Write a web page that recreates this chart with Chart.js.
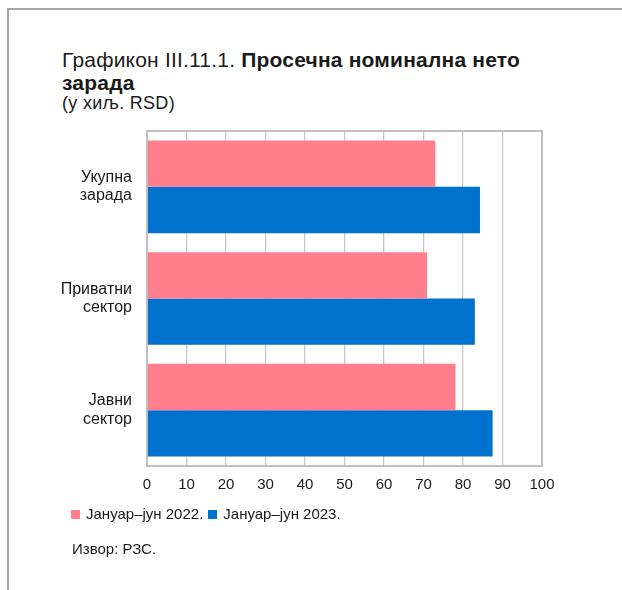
<!DOCTYPE html>
<html>
<head>
<meta charset="utf-8">
<script src="https://cdn.jsdelivr.net/npm/chart.js@4"></script>
<style>
  body { margin: 0; background: #fff; font-family: "Liberation Sans", Arial, sans-serif; color: #1a1a1a; }
  #wrap { position: relative; width: 622px; height: 590px; overflow: hidden; }
  #frame { position: absolute; left: 7px; top: 8px; width: 640px; height: 600px; border-left: 2px solid #a6a6a6; border-top: 2px solid #a6a6a6; }
  #title { position: absolute; left: 62px; top: 48px; font-size: 21px; line-height: 23px; letter-spacing: 0.2px; white-space: nowrap; }
  #unit { position: absolute; left: 62px; top: 93px; font-size: 18px; line-height: 20px; letter-spacing: 0.3px; }
  #legend { position: absolute; left: 71px; top: 505px; font-size: 15px; }
  #legend span.box { display: inline-block; width: 9px; height: 9px; margin-right: 6px; }
  #legend span.item { margin-right: 5px; }
  #source { position: absolute; left: 72px; top: 540px; font-size: 15px; }
  canvas { position: absolute; left: 0; top: 0; }
</style>
</head>
<body>
<div id="wrap">
  <div id="frame"></div>
  <div id="title">Графикон III.11.1. <b>Просечна номинална нето<br>зарада</b></div>
  <div id="unit">(у хиљ. RSD)</div>
  <canvas id="myChart" width="622" height="590"></canvas>
  <div id="legend"></div>
  <div id="source">Извор: РЗС.</div>
</div>
<script>
// podaci
const categories = [['Укупна', 'зарада'], ['Приватни', 'сектор'], ['Јавни', 'сектор']];
const seriesNames = ['Јануар–јун 2022.', 'Јануар–јун 2023.'];
const values2022 = [73.0, 70.9, 78.1];
const values2023 = [84.3, 83.0, 87.5];
const xTicks = [0, 10, 20, 30, 40, 50, 60, 70, 80, 90, 100];
const colors = ['#ff7f8c', '#0072ce'];

// okvir oko plota
const boxPlugin = {
    id: 'box',
    afterDatasetsDraw(chart) {
        const a = chart.chartArea;
        const c = chart.ctx;
        c.save();
        c.strokeStyle = '#bfbfbf';
        c.lineWidth = 2;
        c.strokeRect(a.left, a.top, a.right - a.left, a.bottom - a.top);
        c.restore();
    }
};

let ctx = document.getElementById('myChart').getContext('2d');
let chart = new Chart(ctx, {
    type: 'bar',
    data: {
        labels: categories,
        datasets: [
            { label: seriesNames[0], data: values2022, backgroundColor: colors[0], borderWidth: 0 },
            { label: seriesNames[1], data: values2023, backgroundColor: colors[1], borderWidth: 0 }
        ]
    },
    options: {
        indexAxis: 'y',
        responsive: false,
        animation: false,
        layout: { padding: { left: 0, right: 80, top: 131, bottom: 86 } },
        datasets: { bar: { categoryPercentage: 0.83, barPercentage: 1 } },
        plugins: { legend: { display: false }, tooltip: { enabled: false } },
        scales: {
            x: {
                min: 0, max: 100,
                afterBuildTicks: s => { s.ticks = xTicks.map(v => ({ value: v })); },
                grid: { color: '#c8c8c8', lineWidth: 1.3, drawTicks: false },
                border: { display: false },
                ticks: { color: '#1a1a1a', padding: 10, font: { family: 'Liberation Sans', size: 15 } }
            },
            y: {
                afterFit: s => { s.width = 147; },
                grid: { display: false, drawTicks: false },
                border: { display: false },
                ticks: { color: '#1a1a1a', padding: 15, font: { family: 'Liberation Sans', size: 16, lineHeight: 1.15 } }
            }
        }
    },
    plugins: [boxPlugin]
});

// legenda
let lg = document.getElementById('legend');
chart.data.datasets.forEach(function (ds) {
    lg.innerHTML += '<span class="item"><span class="box" style="background:' + ds.backgroundColor + '"></span>' + ds.label + '</span>';
});
</script>
</body>
</html>
